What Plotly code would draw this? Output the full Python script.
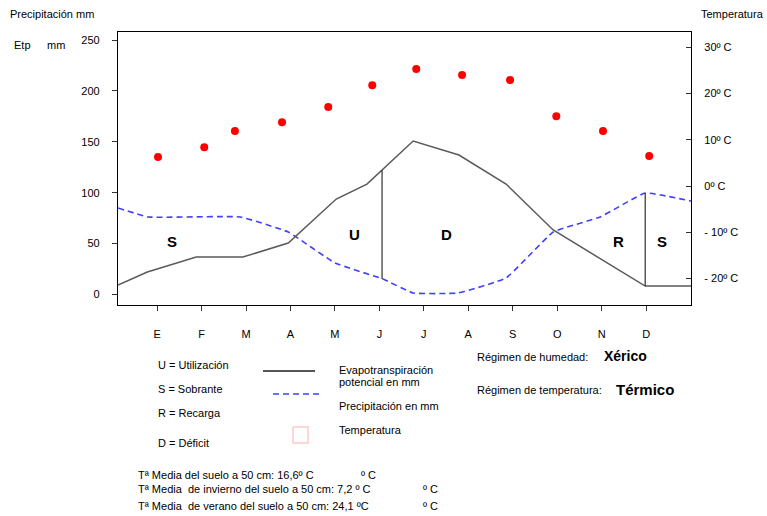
import plotly.graph_objects as go

# ---------------- data ----------------
months = ["E", "F", "M", "A", "M", "J", "J", "A", "S", "O", "N", "D"]
month_pos = [1, 2, 3, 4, 5, 6, 7, 8, 9, 10, 11, 12]

# Evapotranspiración potencial (mm)
etp_x = [0.12, 0.78, 1.88, 2.93, 3.95, 5.03, 5.72, 6.06, 6.76, 7.79, 8.85, 9.91, 11.98, 13.01]
etp_mm = [9.3, 22.1, 36.8, 36.8, 50.6, 93.8, 108.5, 122.3, 150.8, 137.0, 108.5, 63.4, 8.3, 8.3]

# Precipitación (mm)
pre_x = [0.12, 0.80, 2.87, 3.95, 5.00, 6.08, 6.76, 7.77, 8.85, 9.91, 10.97, 11.98, 13.01]
pre_mm = [85.0, 76.2, 76.2, 61.4, 31.0, 15.2, 1.5, 1.5, 16.2, 61.4, 76.2, 99.7, 91.8]

# Temperatura (ºC)
temp_x = [1.02, 2.06, 2.75, 3.81, 4.85, 5.84, 6.83, 7.86, 8.94, 9.98, 11.03, 12.07]
temp_c = [6.3, 8.4, 11.9, 13.8, 17.1, 21.8, 25.3, 24.0, 22.9, 15.1, 11.9, 6.5]

# boundary lines (x, from precipitation, to etp)
bound_x = [6.06, 11.98]
bound_lo = [15.2, 8.3]
bound_hi = [122.3, 99.7]

# zone letters
zone_lab = ["S", "U", "D", "R", "S"]
zone_x = [1.34, 5.43, 7.50, 11.37, 12.36]
zone_y = [51.6, 59.4, 59.4, 51.6, 51.6]

mm_ticks = [0, 50, 100, 150, 200, 250]
t_ticks = [-20, -10, 0, 10, 20, 30]
t_labels = ["- 20º C", "- 10º C", "0º C", "10º C", "20º C", "30º C"]

# ---------------- layout helpers ----------------
W, H = 767, 516
L, R, T, B = 118, 691, 32, 305
def px(x):
    return (x - L) / (R - L)
def py(y):
    return (B - y) / (B - T)

FONT = "Liberation Sans, Arial, sans-serif"

fig = go.Figure()

fig.add_trace(go.Scatter(x=pre_x, y=pre_mm, mode="lines",
                         line=dict(color="#4040ff", width=1.6, dash="6px,4px", shape="spline", smoothing=0.3),
                         hoverinfo="skip", showlegend=False))
fig.add_trace(go.Scatter(x=etp_x, y=etp_mm, mode="lines",
                         line=dict(color="#5a5a5a", width=1.5),
                         hoverinfo="skip", showlegend=False))
for bx, lo, hi in zip(bound_x, bound_lo, bound_hi):
    fig.add_trace(go.Scatter(x=[bx, bx], y=[lo, hi], mode="lines",
                             line=dict(color="#303030", width=1.2),
                             hoverinfo="skip", showlegend=False))
fig.add_trace(go.Scatter(x=temp_x, y=temp_c, mode="markers", yaxis="y2",
                         marker=dict(color="#ff0000", size=8),
                         hoverinfo="skip", showlegend=False))

ann = []
for lab, zx, zy in zip(zone_lab, zone_x, zone_y):
    ann.append(dict(x=zx, y=zy, xref="x", yref="y", text=f"<b>{lab}</b>", showarrow=False,
                    font=dict(family=FONT, size=15, color="black")))

def txt(x, y, s, size=11, bold=False, anchor="left"):
    if bold:
        s = f"<b>{s}</b>"
    ann.append(dict(x=px(x), y=py(y), xref="paper", yref="paper", text=s, showarrow=False,
                    xanchor=anchor, yanchor="middle",
                    font=dict(family=FONT, size=size, color="black")))

txt(8, 14, "Precipitación mm")
txt(12, 45, "Etp")
txt(45, 45, "mm")
txt(699, 14, "Temperatura")

txt(156, 365, "U = Utilización")
txt(156, 389, "S = Sobrante")
txt(156, 413, "R = Recarga")
txt(156, 443, "D = Déficit")
txt(337, 370, "Evapotranspiración")
txt(337, 382, "potencial en mm")
txt(337, 406, "Precipitación en mm")
txt(337, 430, "Temperatura")

txt(475, 357, "Régimen de humedad:")
txt(602, 356, "Xérico", size=14, bold=True)
txt(475, 390, "Régimen de temperatura:")
txt(614, 389, "Térmico", size=15, bold=True)

txt(136, 475, "Tª Media del suelo a 50 cm: 16,6º C")
txt(359, 475, "º C")
txt(136, 489, "Tª Media  de invierno del suelo a 50 cm: 7,2 º C")
txt(421, 489, "º C")
txt(136, 506, "Tª Media  de verano del suelo a 50 cm: 24,1 ºC")
txt(421, 506, "º C")

shapes = [
    dict(type="line", xref="paper", yref="paper", x0=px(263), x1=px(315), y0=py(371), y1=py(371),
         line=dict(color="#555555", width=1.8)),
    dict(type="line", xref="paper", yref="paper", x0=px(273), x1=px(322), y0=py(394), y1=py(394),
         line=dict(color="#7070ff", width=1.8, dash="6px,4px")),
    dict(type="rect", xref="paper", yref="paper", x0=px(293), x1=px(308), y0=py(443), y1=py(427),
         line=dict(color="#ffc8c8", width=1.5), fillcolor="rgba(0,0,0,0)"),
]

fig.update_layout(
    width=W, height=H, autosize=False,
    margin=dict(l=L, r=W - R, t=T, b=H - B, pad=0),
    paper_bgcolor="white", plot_bgcolor="white",
    font=dict(family=FONT, size=11, color="black"),
    showlegend=False,
    annotations=ann, shapes=shapes,
    xaxis=dict(range=[0.12, 13.01], tickvals=month_pos, ticktext=months,
               showgrid=False, zeroline=False, showline=True, linecolor="black", linewidth=1.2,
               mirror=True, ticks="outside", ticklen=5, tickcolor="#333", tickwidth=1,
               ticklabelstandoff=14, tickfont=dict(family=FONT, size=11)),
    yaxis=dict(range=[-10.3, 257.9], tickvals=mm_ticks, showgrid=False, zeroline=False,
               showline=True, linecolor="black", linewidth=1.2, mirror=True,
               ticks="outside", ticklen=5, tickcolor="#333", tickwidth=1,
               ticklabelstandoff=10, tickfont=dict(family=FONT, size=11)),
    yaxis2=dict(range=[-25.7, 33.3], overlaying="y", side="right", tickvals=t_ticks, ticktext=t_labels,
                showgrid=False, zeroline=False, showline=True, linecolor="black", linewidth=1.2,
                ticks="inside", ticklen=5, tickcolor="#333", tickwidth=1,
                ticklabelstandoff=10, tickfont=dict(family=FONT, size=11)),
)

fig.write_html("out.html", config={"displayModeBar": False},
               post_script="document.body.style.margin='0px';document.body.style.overflow='hidden';")
